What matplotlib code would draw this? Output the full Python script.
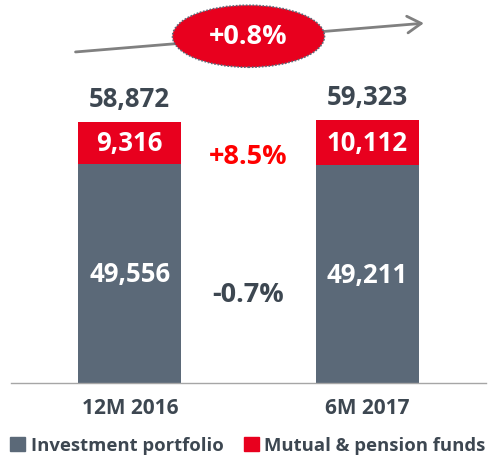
import matplotlib.pyplot as plt
from matplotlib.patches import Ellipse, Patch

# Data
periods = ["12M 2016", "6M 2017"]
investment = [49556, 49211]
mutual_pension = [9316, 10112]
change_total = "+0.8%"
change_mutual = "+8.5%"
change_invest = "-0.7%"

gray = "#5b6978"
red = "#e8001e"
dark = "#3d4751"

plt.rcParams['font.family'] = ['Open Sans', 'DejaVu Sans']

fig = plt.figure(figsize=(4.96, 4.56), dpi=100)
ax = fig.add_axes([0.0222, 0.1579, 0.9577, 0.842])

x = list(range(len(periods)))
width = 0.433
ax.bar(x, investment, width, color=gray, label="Investment portfolio")
ax.bar(x, mutual_pension, width, bottom=investment, color=red, label="Mutual & pension funds")

ax.set_xlim(-0.5, 1.5)
ax.set_ylim(0, 86700)

fs = 18.5
fs_pct = 19.5
# labels inside and on top of bars
for i in x:
    total = investment[i] + mutual_pension[i]
    ax.text(i, investment[i] / 2, f"{investment[i]:,}", ha="center", va="center",
            color="white", fontsize=fs, fontweight="bold")
    ax.text(i, investment[i] + mutual_pension[i] / 2, f"{mutual_pension[i]:,}", ha="center",
            va="center", color="white", fontsize=fs, fontweight="bold")
    ax.text(i, total + 5300, f"{total:,}", ha="center", va="center",
            color=dark, fontsize=fs, fontweight="bold")

ax.text(0.5, 51300, change_mutual, ha="center", va="center", color="#ff0000",
        fontsize=fs_pct, fontweight="bold")
ax.text(0.5, 20100, change_invest, ha="center", va="center", color=dark,
        fontsize=fs_pct, fontweight="bold")

# growth arrow with ellipse
ax.annotate("", xy=(1.25, 81300), xytext=(-0.24, 74700),
            arrowprops=dict(arrowstyle="->,head_length=1.0,head_width=0.6", color="#808080", lw=2),
            annotation_clip=False)
ell = Ellipse((0.5, 78300), 0.64, 14000, facecolor=red, edgecolor="#5b6978",
              linestyle=(0, (1, 1)), lw=1.2, zorder=5, clip_on=False)
ax.add_patch(ell)
ax.text(0.5, 78300, change_total, ha="center", va="center", color="white",
        fontsize=fs_pct, fontweight="bold", zorder=6)

# axes styling
for side in ["top", "right", "left"]:
    ax.spines[side].set_visible(False)
ax.spines["bottom"].set_color("#a6a6a6")
ax.spines["bottom"].set_linewidth(1)
ax.set_yticks([])
ax.set_xticks(x)
ax.set_xticklabels(periods, fontsize=15, fontweight="bold", color=dark)
ax.tick_params(axis="x", length=0, pad=10)

handles = [Patch(color=gray), Patch(color=red)]
fig.legend(handles, ["Investment portfolio", "Mutual & pension funds"], loc="lower center",
           bbox_to_anchor=(0.5, -0.035), ncol=2, frameon=False, handlelength=0.8, handleheight=0.8,
           handletextpad=0.3, columnspacing=1.1, prop=dict(size=13.3, weight="bold"),
           labelcolor=dark)

fig.savefig("out.png", dpi=100)
